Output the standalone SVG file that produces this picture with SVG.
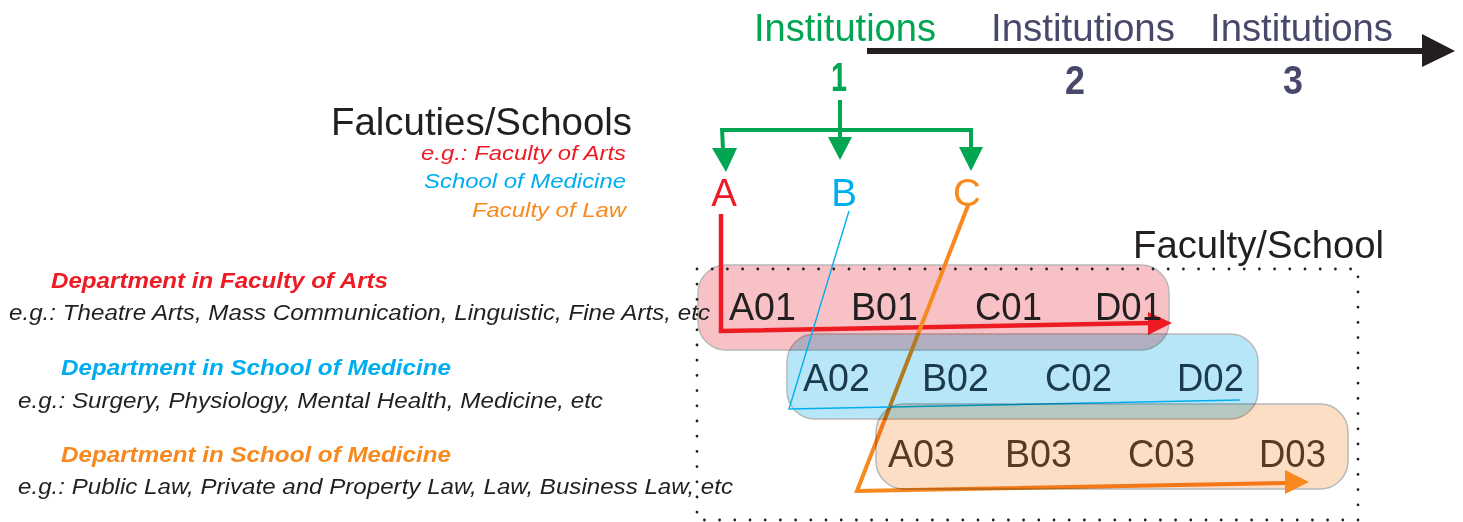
<svg xmlns="http://www.w3.org/2000/svg" width="1463" height="522" viewBox="0 0 1463 522">
<style>
text{font-family:"Liberation Sans",Arial,sans-serif}
.big{font-size:38px;fill:#231f20}
.inst{font-size:39px}
.num{font-size:40px;font-weight:bold}
.it{font-size:21px;font-style:italic}
.dept{font-size:22px;font-style:italic;font-weight:bold}
.eg{font-size:22.5px;font-style:italic;fill:#231f20}
.lbl{font-size:38.5px}
.box{stroke:#b8b8b8;stroke-width:1.5;mix-blend-mode:multiply}
.g{stroke:#00a651;stroke-width:4;fill:none}
.gh{fill:#00a651}
</style>
<rect width="1463" height="522" fill="#ffffff"/>

<g id="node-boxes">
<rect id="box-red" class="box" x="698" y="265" width="471" height="85" rx="28" fill="#f8c1c5"/>
</g>

<g id="connectors">
<path d="M721,214 V331 L1150,323" fill="none" stroke="#ed1c24" stroke-width="4.5"/>
<polygon points="1148,312 1172,323 1148,335" fill="#ed1c24"/>
<path d="M969,203 L857,491 L1288,483" fill="none" stroke="#f7891f" stroke-width="4"/>
</g>

<g id="node-box-blue">
<rect id="box-blue" class="box" x="787" y="334" width="471" height="85" rx="28" fill="#b7e6f8"/>
</g>
<g id="connector-blue">
<path d="M849,211 L789,409 L1240,400" fill="none" stroke="#00aeef" stroke-width="1.4"/>
</g>
<g id="node-box-orange">
<rect id="box-orange" class="box" x="876" y="404" width="472" height="85" rx="28" fill="#fcdec5"/>
</g>
<g id="connector-orange-head">
<polygon points="1285,470 1309,482 1285,494" fill="#f7891f"/>
</g>

<g id="frame">
<rect x="697" y="269" width="661" height="251" fill="none" stroke="#231f20" stroke-width="2.8" stroke-dasharray="0 15.2" stroke-linecap="round"/>
</g>

<g id="timeline">
<line x1="867" y1="51" x2="1424" y2="51" stroke="#231f20" stroke-width="6"/>
<polygon points="1422,34 1455,51 1422,67" fill="#231f20"/>
</g>

<g id="institution-1">
<text class="inst" x="754" y="41" fill="#00a651" textLength="182" lengthAdjust="spacingAndGlyphs">Institutions</text>
<text class="num" x="831" y="91" fill="#00a651" textLength="16" lengthAdjust="spacingAndGlyphs">1</text>
</g>
<g id="institution-2">
<text class="inst" x="991" y="41" fill="#48486a" textLength="184" lengthAdjust="spacingAndGlyphs">Institutions</text>
<text class="num" x="1065" y="94" fill="#48486a" textLength="20" lengthAdjust="spacingAndGlyphs">2</text>
</g>
<g id="institution-3">
<text class="inst" x="1210" y="41" fill="#48486a" textLength="183" lengthAdjust="spacingAndGlyphs">Institutions</text>
<text class="num" x="1283" y="94" fill="#48486a" textLength="20" lengthAdjust="spacingAndGlyphs">3</text>
</g>

<g id="green-tree">
<path class="g" d="M840,100 V139"/>
<path class="g" d="M722,130 H971"/>
<path class="g" d="M722,128 L723,150"/>
<path class="g" d="M971,128 V149"/>
<polygon class="gh" points="828,137 852,137 840,160"/>
<polygon class="gh" points="712,148 737,148 726,172"/>
<polygon class="gh" points="959,147 983,147 971,171"/>
</g>

<g id="faculties-label">
<text class="big" x="331" y="135" textLength="301" lengthAdjust="spacingAndGlyphs">Falcuties/Schools</text>
<text class="it" x="421" y="160" fill="#ed1c24" textLength="205" lengthAdjust="spacingAndGlyphs">e.g.: Faculty of Arts</text>
<text class="it" x="424" y="188" fill="#00aeef" textLength="202" lengthAdjust="spacingAndGlyphs">School of Medicine</text>
<text class="it" x="472" y="217" fill="#f7891f" textLength="154" lengthAdjust="spacingAndGlyphs">Faculty of Law</text>
</g>

<g id="node-A"><text class="lbl" x="724" y="206" fill="#ed1c24" text-anchor="middle">A</text></g>
<g id="node-B"><text class="lbl" x="844" y="206" fill="#00aeef" text-anchor="middle">B</text></g>
<g id="node-C"><text class="lbl" x="967" y="206" fill="#f7891f" text-anchor="middle">C</text></g>

<g id="faculty-school-label">
<text class="big" x="1133" y="258" textLength="251" lengthAdjust="spacingAndGlyphs">Faculty/School</text>
</g>

<g id="dept-arts">
<text class="dept" x="51" y="288" fill="#ed1c24" textLength="337" lengthAdjust="spacingAndGlyphs">Department in Faculty of Arts</text>
<text class="eg" x="9" y="320" textLength="701" lengthAdjust="spacingAndGlyphs">e.g.: Theatre Arts, Mass Communication, Linguistic, Fine Arts, etc</text>
</g>
<g id="dept-medicine">
<text class="dept" x="61" y="375" fill="#00aeef" textLength="390" lengthAdjust="spacingAndGlyphs">Department in School of Medicine</text>
<text class="eg" x="18" y="408" textLength="585" lengthAdjust="spacingAndGlyphs">e.g.: Surgery, Physiology, Mental Health, Medicine, etc</text>
</g>
<g id="dept-law">
<text class="dept" x="61" y="462" fill="#f7891f" textLength="390" lengthAdjust="spacingAndGlyphs">Department in School of Medicine</text>
<text class="eg" x="18" y="494" textLength="715" lengthAdjust="spacingAndGlyphs">e.g.: Public Law, Private and Property Law, Law, Business Law, etc</text>
</g>

<g id="row-1" class="lbl" fill="#231f20">
<text x="729" y="320" textLength="67" lengthAdjust="spacingAndGlyphs">A01</text><text x="851" y="320" textLength="67" lengthAdjust="spacingAndGlyphs">B01</text><text x="975" y="320" textLength="67" lengthAdjust="spacingAndGlyphs">C01</text><text x="1095" y="320" textLength="67" lengthAdjust="spacingAndGlyphs">D01</text>
</g>
<g id="row-2" class="lbl" fill="#1b3b4c">
<text x="803" y="391" textLength="67" lengthAdjust="spacingAndGlyphs">A02</text><text x="922" y="391" textLength="67" lengthAdjust="spacingAndGlyphs">B02</text><text x="1045" y="391" textLength="67" lengthAdjust="spacingAndGlyphs">C02</text><text x="1177" y="391" textLength="67" lengthAdjust="spacingAndGlyphs">D02</text>
</g>
<g id="row-3" class="lbl" fill="#573a22">
<text x="888" y="467" textLength="67" lengthAdjust="spacingAndGlyphs">A03</text><text x="1005" y="467" textLength="67" lengthAdjust="spacingAndGlyphs">B03</text><text x="1128" y="467" textLength="67" lengthAdjust="spacingAndGlyphs">C03</text><text x="1259" y="467" textLength="67" lengthAdjust="spacingAndGlyphs">D03</text>
</g>
</svg>
